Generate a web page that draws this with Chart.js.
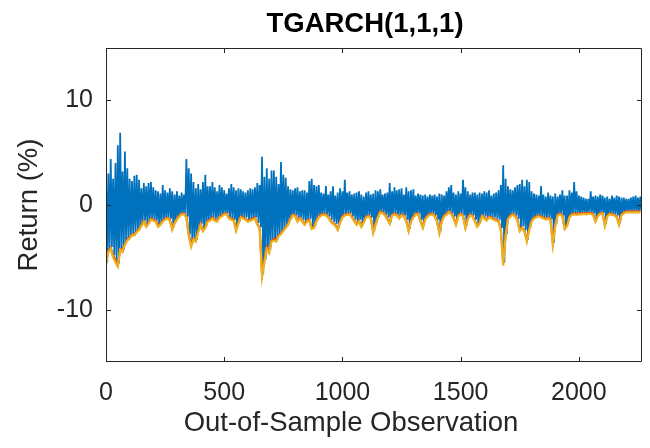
<!DOCTYPE html>
<html>
<head>
<meta charset="utf-8">
<script src="https://cdn.jsdelivr.net/npm/chart.js@4.4.1/dist/chart.umd.min.js"></script>
<style>
  html, body { margin: 0; padding: 0; background: #fff; }
  #chart { display: block; }
</style>
</head>
<body>
<canvas id="chart" width="650" height="448"></canvas>
<script>
// Observations are read every 10 steps; returns as upper/lower envelope of the band.
const obsStep = 10;
const xTicks = [0, 500, 1000, 1500, 2000];
const yTicks = [-10, 0, 10];

const returnsHigh = [
  2.9, 3.0, 4.4, 2.5, 4.0, 5.7, 6.9, 3.2, 5.1, 3.5,
  2.5, 2.3, 2.8, 2.9, 2.4, 1.6, 2.1, 1.8, 2.1, 2.2,
  1.7, 1.4, 1.3, 1.1, 1.9, 1.4, 1.2, 1.6, 1.3, 1.0,
  1.3, 0.9, 1.2, 1.0, 4.4, 3.5, 3.0, 2.2, 1.6, 2.0,
  1.5, 2.2, 2.9, 1.8, 1.8, 2.2, 1.7, 1.3, 1.9, 1.7,
  1.4, 1.1, 1.6, 2.0, 1.7, 1.4, 1.6, 1.5, 1.3, 1.2,
  1.4, 1.6, 1.5, 1.7, 2.1, 1.9, 4.6, 2.7, 3.5, 2.5,
  3.3, 3.3, 2.7, 2.0, 4.1, 2.9, 2.6, 1.8, 1.5, 1.4,
  1.6, 1.7, 1.3, 1.4, 1.4, 1.2, 2.3, 2.5, 1.9, 1.8,
  1.9, 1.2, 1.1, 1.8, 1.0, 1.3, 1.8, 0.9, 1.2, 1.6,
  1.3, 2.4, 1.2, 1.3, 1.0, 1.1, 1.2, 1.3, 1.0, 0.8,
  1.2, 1.3, 1.0, 1.1, 1.4, 1.3, 1.5, 1.0, 1.1, 1.2,
  2.1, 1.3, 1.7, 1.4, 1.5, 1.6, 1.0, 1.7, 1.3, 1.4,
  1.5, 0.9, 1.1, 1.0, 0.9, 1.0, 0.8, 1.0, 0.9, 1.0,
  0.8, 1.1, 1.0, 0.9, 1.3, 1.7, 1.9, 1.2, 1.0, 1.3,
  1.1, 2.4, 1.7, 1.3, 1.0, 1.2, 1.2, 1.0, 1.2, 1.1,
  1.3, 1.2, 1.4, 0.9, 1.1, 1.2, 1.4, 1.9, 3.8, 2.5,
  1.8, 1.5, 1.4, 1.7, 1.9, 2.0, 2.4, 1.8, 2.4, 2.2,
  1.3, 1.1, 1.0, 0.9, 1.8, 1.0, 0.8, 1.2, 0.9, 0.8,
  1.1, 0.8, 1.0, 1.4, 0.9, 0.9, 1.4, 1.2, 2.2, 1.3,
  0.9, 0.8, 0.7, 0.6, 0.6, 1.3, 0.8, 0.9, 0.8, 1.0,
  0.9, 0.7, 0.8, 0.6, 0.9, 0.7, 0.9, 0.8, 0.7, 0.7,
  0.6, 0.6, 0.7, 0.8, 0.9, 0.7, 0.8
];

const returnsLow = [
  -5.5, -4.3, -4.0, -4.8, -5.3, -5.6, -4.1, -4.3, -3.6, -3.2,
  -3.0, -2.7, -2.7, -2.4, -2.2, -1.8, -1.5, -1.9, -1.6, -1.3,
  -1.4, -1.5, -1.9, -1.7, -1.4, -1.3, -1.2, -1.3, -2.2, -1.6,
  -1.3, -1.0, -0.8, -0.8, -1.1, -2.8, -3.7, -3.1, -3.3, -2.4,
  -1.8, -2.3, -2.0, -1.5, -1.4, -1.2, -1.3, -1.4, -1.1, -1.0,
  -0.8, -0.8, -1.2, -1.3, -1.4, -2.3, -1.6, -1.1, -1.2, -1.2,
  -1.4, -1.3, -1.3, -1.2, -1.7, -2.1, -6.6, -5.2, -4.0, -4.3,
  -3.3, -3.2, -3.3, -2.8, -2.6, -2.3, -2.0, -1.7, -1.3, -0.9,
  -1.0, -1.4, -1.2, -1.4, -1.7, -1.4, -1.3, -2.1, -2.0, -1.4,
  -1.1, -0.9, -0.8, -0.9, -1.1, -1.4, -1.6, -1.8, -2.2, -1.5,
  -1.1, -0.9, -0.8, -0.8, -1.1, -1.4, -1.7, -1.4, -1.9, -1.5,
  -1.1, -1.0, -1.2, -2.5, -1.7, -1.1, -0.6, -0.7, -0.9, -1.2,
  -1.6, -0.9, -0.8, -0.9, -1.2, -0.9, -1.0, -1.4, -2.3, -1.4,
  -1.1, -0.8, -0.8, -1.4, -2.0, -1.2, -1.0, -0.8, -0.8, -1.0,
  -1.4, -2.5, -1.4, -1.0, -0.8, -0.6, -0.8, -1.1, -1.7, -1.0,
  -0.8, -1.0, -2.0, -1.2, -0.9, -1.0, -1.4, -1.9, -1.6, -1.0,
  -1.1, -1.3, -1.1, -1.2, -1.2, -1.3, -1.4, -2.2, -5.5, -2.8,
  -1.3, -1.0, -0.8, -1.0, -1.3, -2.3, -2.0, -2.4, -3.3, -2.2,
  -1.4, -1.2, -1.1, -1.0, -1.1, -1.2, -1.2, -1.2, -1.3, -3.6,
  -1.8, -0.9, -0.8, -1.0, -2.1, -1.8, -1.1, -0.8, -0.8, -0.8,
  -0.8, -0.8, -0.7, -0.8, -0.7, -0.7, -0.8, -1.4, -1.0, -0.7,
  -0.7, -1.8, -1.0, -0.8, -0.8, -0.9, -1.0, -1.7, -0.9, -0.7,
  -0.6, -0.6, -0.6, -0.6, -0.6, -0.6, -0.6
];

const varRed = [
  -5.5, -4.4, -4.1, -4.8, -5.3, -5.7, -4.2, -4.3, -3.7, -3.3,
  -3.1, -2.8, -2.8, -2.5, -2.3, -1.9, -1.5, -2.0, -1.7, -1.3,
  -1.4, -1.5, -1.9, -1.8, -1.5, -1.3, -1.2, -1.4, -2.2, -1.7,
  -1.3, -1.0, -0.8, -0.8, -1.1, -2.8, -3.8, -3.2, -3.3, -2.5,
  -1.8, -2.4, -2.1, -1.5, -1.4, -1.2, -1.4, -1.5, -1.1, -1.0,
  -0.8, -0.8, -1.2, -1.3, -1.4, -2.3, -1.7, -1.1, -1.2, -1.3,
  -1.5, -1.4, -1.3, -1.2, -1.8, -2.2, -6.5, -5.2, -4.0, -4.4,
  -3.4, -3.2, -3.3, -2.9, -2.7, -2.4, -2.1, -1.8, -1.3, -0.9,
  -1.0, -1.5, -1.2, -1.5, -1.8, -1.5, -1.4, -2.2, -2.1, -1.5,
  -1.1, -0.9, -0.85, -0.9, -1.1, -1.5, -1.7, -1.9, -2.3, -1.6,
  -1.1, -0.9, -0.85, -0.8, -1.1, -1.5, -1.8, -1.5, -2.0, -1.6,
  -1.1, -1.0, -1.2, -2.5, -1.8, -1.1, -0.6, -0.7, -0.9, -1.3,
  -1.7, -0.9, -0.8, -0.9, -1.2, -0.9, -1.0, -1.5, -2.4, -1.5,
  -1.1, -0.8, -0.8, -1.5, -2.1, -1.3, -1.0, -0.85, -0.8, -1.0,
  -1.5, -2.6, -1.5, -1.0, -0.85, -0.6, -0.8, -1.2, -1.8, -1.0,
  -0.8, -1.0, -2.1, -1.3, -0.9, -1.0, -1.5, -2.0, -1.7, -1.0,
  -1.2, -1.4, -1.1, -1.2, -1.3, -1.4, -1.5, -2.3, -5.5, -2.9,
  -1.3, -1.0, -0.85, -1.0, -1.4, -2.4, -2.1, -2.5, -3.3, -2.3,
  -1.5, -1.2, -1.1, -1.0, -1.1, -1.2, -1.3, -1.2, -1.4, -3.6,
  -1.9, -0.9, -0.8, -1.0, -2.2, -1.9, -1.1, -0.85, -0.8, -0.85,
  -0.8, -0.8, -0.75, -0.8, -0.75, -0.75, -0.85, -1.5, -1.0, -0.75,
  -0.75, -1.9, -1.0, -0.8, -0.85, -0.9, -1.1, -1.8, -0.9, -0.7,
  -0.6, -0.6, -0.6, -0.6, -0.6, -0.6, -0.6
];

const varYellow = [
  -5.7, -4.5, -4.2, -5.0, -5.5, -5.9, -4.3, -4.5, -3.8, -3.4,
  -3.2, -2.9, -2.9, -2.6, -2.4, -2.0, -1.6, -2.1, -1.8, -1.4,
  -1.5, -1.6, -2.1, -1.9, -1.6, -1.4, -1.3, -1.5, -2.4, -1.8,
  -1.4, -1.1, -0.9, -0.9, -1.2, -3.0, -4.0, -3.3, -3.5, -2.6,
  -1.9, -2.5, -2.2, -1.6, -1.5, -1.3, -1.5, -1.6, -1.2, -1.1,
  -0.9, -0.9, -1.3, -1.4, -1.5, -2.5, -1.8, -1.2, -1.3, -1.4,
  -1.6, -1.5, -1.4, -1.3, -1.9, -2.3, -6.9, -5.5, -4.2, -4.6,
  -3.5, -3.4, -3.5, -3.0, -2.8, -2.5, -2.2, -1.9, -1.4, -1.0,
  -1.1, -1.6, -1.3, -1.6, -1.9, -1.6, -1.5, -2.3, -2.2, -1.6,
  -1.2, -1.0, -0.95, -1.0, -1.2, -1.6, -1.8, -2.0, -2.4, -1.7,
  -1.2, -1.0, -0.95, -0.9, -1.2, -1.6, -1.9, -1.6, -2.1, -1.7,
  -1.2, -1.1, -1.3, -2.7, -1.9, -1.2, -0.7, -0.8, -1.0, -1.4,
  -1.8, -1.0, -0.9, -1.0, -1.3, -1.0, -1.1, -1.6, -2.5, -1.6,
  -1.2, -0.9, -0.9, -1.6, -2.2, -1.4, -1.1, -0.95, -0.9, -1.1,
  -1.6, -2.7, -1.6, -1.1, -0.95, -0.7, -0.9, -1.3, -1.9, -1.1,
  -0.9, -1.1, -2.2, -1.4, -1.0, -1.1, -1.6, -2.1, -1.8, -1.1,
  -1.3, -1.5, -1.2, -1.3, -1.4, -1.5, -1.6, -2.4, -5.8, -3.0,
  -1.4, -1.1, -0.95, -1.1, -1.5, -2.5, -2.2, -2.6, -3.5, -2.4,
  -1.6, -1.3, -1.2, -1.1, -1.2, -1.3, -1.4, -1.3, -1.5, -3.8,
  -2.0, -1.0, -0.9, -1.1, -2.3, -2.0, -1.2, -0.95, -0.9, -0.95,
  -0.9, -0.9, -0.85, -0.9, -0.85, -0.85, -0.95, -1.6, -1.1, -0.85,
  -0.85, -2.0, -1.1, -0.9, -0.95, -1.0, -1.2, -1.9, -1.0, -0.8,
  -0.7, -0.7, -0.7, -0.7, -0.7, -0.7, -0.7
];

const titleText = 'TGARCH(1,1,1)';
const xLabel = 'Out-of-Sample Observation';
const yLabel = 'Return (%)';

const fontFamily = "'Liberation Sans', Arial, Helvetica, sans-serif";
const axisColor = '#262626';

// high and low of each step are interleaved so the band fills like the daily series
const returnsPoints = [];
returnsHigh.forEach((v, i) => {
    returnsPoints.push({ x: i * obsStep, y: v });
    returnsPoints.push({ x: i * obsStep + obsStep / 2, y: returnsLow[i] });
});
const toPoints = (arr) => arr.map((v, i) => ({ x: i * obsStep, y: v }));

// MATLAB style box with inward ticks on all four sides
const axesBox = {
    id: 'axesBox',
    afterDatasetsDraw(chart) {
        const { ctx, chartArea: a, scales: { x, y } } = chart;
        const len = 5;
        ctx.save();
        ctx.strokeStyle = axisColor;
        ctx.lineWidth = 1;
        ctx.beginPath();
        ctx.rect(a.left + 0.5, a.top + 0.5, a.right - a.left - 1, a.bottom - a.top - 1);
        x.ticks.forEach(t => {
            const px = Math.round(x.getPixelForValue(t.value)) + 0.5;
            ctx.moveTo(px, a.bottom); ctx.lineTo(px, a.bottom - len);
            ctx.moveTo(px, a.top); ctx.lineTo(px, a.top + len);
        });
        y.ticks.forEach(t => {
            const py = Math.round(y.getPixelForValue(t.value)) + 0.5;
            ctx.moveTo(a.left, py); ctx.lineTo(a.left + len, py);
            ctx.moveTo(a.right, py); ctx.lineTo(a.right - len, py);
        });
        ctx.stroke();
        ctx.restore();
    }
};

// title and x label sit a little left of the axes centre in the original figure
const axesLabels = {
    id: 'axesLabels',
    afterDraw(chart) {
        const { ctx, chartArea: a } = chart;
        const mid = (a.left + a.right) / 2;
        ctx.save();
        ctx.textAlign = 'center';
        ctx.textBaseline = 'middle';
        ctx.fillStyle = '#000';
        ctx.font = `bold 27.5px ${fontFamily}`;
        ctx.fillText(titleText, mid - 9, 24);
        ctx.fillStyle = axisColor;
        ctx.font = `27.5px ${fontFamily}`;
        ctx.fillText(xLabel, mid - 23, 423);
        ctx.restore();
    }
};

const config = {
    type: 'line',
    data: {
        datasets: [
            { label: 'Return', data: returnsPoints, borderColor: '#0072BD', borderWidth: 1.8, order: 3 },
            { label: 'VaR 1', data: toPoints(varRed), borderColor: '#D95319', borderWidth: 2.2, order: 2 },
            { label: 'VaR 2', data: toPoints(varYellow), borderColor: '#EDB120', borderWidth: 2.2, order: 1 }
        ]
    },
    options: {
        responsive: false,
        animation: false,
        layout: { padding: { left: 0, right: 8, top: 48, bottom: 0 } },
        elements: { point: { radius: 0 }, line: { tension: 0 } },
        plugins: {
            legend: { display: false },
            tooltip: { enabled: false },
            title: { display: false }
        },
        scales: {
            x: {
                type: 'linear',
                min: 0,
                max: 2267,
                afterFit: (scale) => { scale.height = 86; },
                afterBuildTicks: (scale) => { scale.ticks = xTicks.map(v => ({ value: v })); },
                grid: { display: false, drawTicks: false },
                border: { display: false },
                ticks: {
                    color: axisColor, padding: 16, maxRotation: 0,
                    font: { family: fontFamily, size: 25 },
                    callback: (v) => String(v)
                }
            },
            y: {
                type: 'linear',
                min: -15,
                max: 15,
                afterFit: (scale) => { scale.width = 106; },
                afterBuildTicks: (scale) => { scale.ticks = yTicks.map(v => ({ value: v })); },
                grid: { display: false, drawTicks: false },
                border: { display: false },
                ticks: {
                    color: axisColor, padding: 13,
                    font: { family: fontFamily, size: 25 },
                    callback: (v) => String(v)
                },
                title: {
                    display: true,
                    text: yLabel,
                    color: axisColor,
                    font: { family: fontFamily, size: 27.5 },
                    padding: { top: 13, bottom: 0 }
                }
            }
        }
    },
    plugins: [axesBox, axesLabels]
};

const chart = new Chart(document.getElementById('chart').getContext('2d'), config);
</script>
</body>
</html>
